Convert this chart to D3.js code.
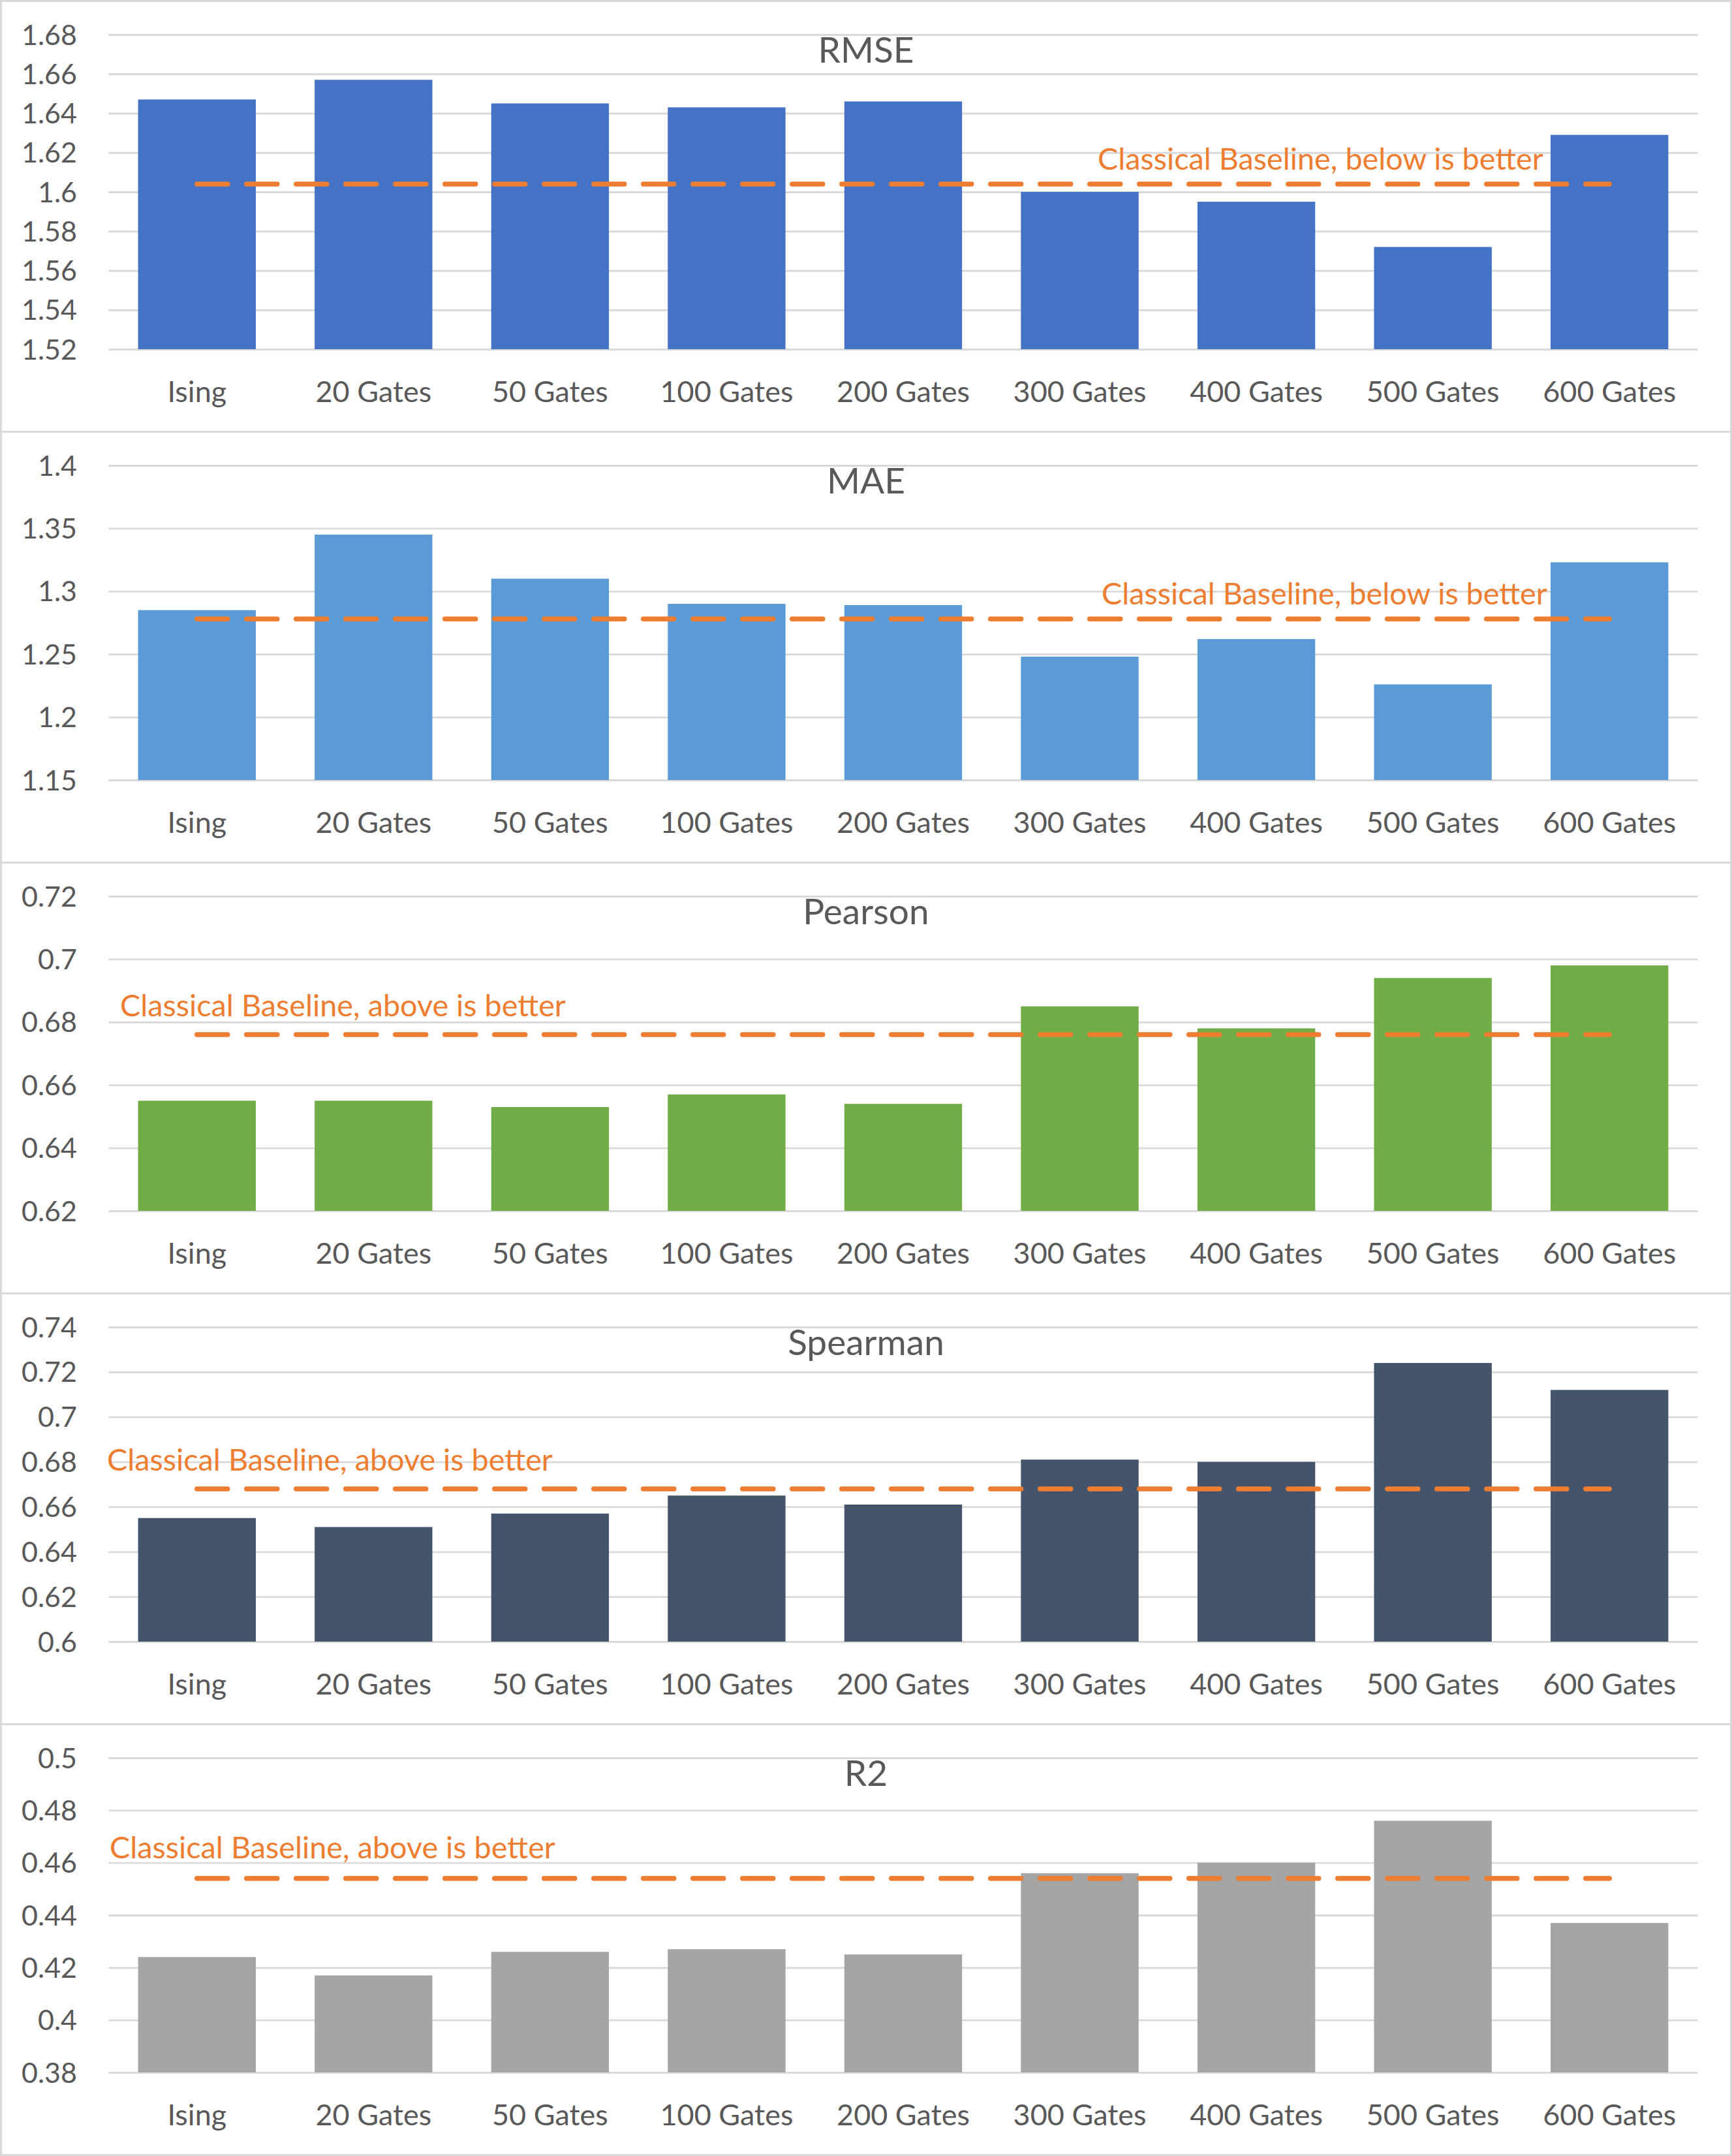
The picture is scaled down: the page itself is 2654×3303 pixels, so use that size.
<!DOCTYPE html>
<html>
<head>
<meta charset="utf-8">
<script src="https://cdn.jsdelivr.net/npm/d3@7"></script>
<style>
  html, body { margin: 0; padding: 0; background: #ffffff; }
  svg { display: block; }
</style>
</head>
<body>
<div id="chart"></div>
<script>
// ---------------- DATA ----------------
const categories = ["Ising", "20 Gates", "50 Gates", "100 Gates", "200 Gates", "300 Gates", "400 Gates", "500 Gates", "600 Gates"];

const titles = ["RMSE", "MAE", "Pearson", "Spearman", "R2"];

const rmseValues     = [1.647, 1.657, 1.645, 1.643, 1.646, 1.600, 1.595, 1.572, 1.629];
const maeValues      = [1.285, 1.345, 1.310, 1.290, 1.289, 1.248, 1.262, 1.226, 1.323];
const pearsonValues  = [0.655, 0.655, 0.653, 0.657, 0.654, 0.685, 0.678, 0.694, 0.698];
const spearmanValues = [0.655, 0.651, 0.657, 0.665, 0.661, 0.681, 0.680, 0.724, 0.712];
const r2Values       = [0.424, 0.417, 0.426, 0.427, 0.425, 0.456, 0.460, 0.476, 0.437];

const rmseBaseline     = [1.604, 1.604, 1.604, 1.604, 1.604, 1.604, 1.604, 1.604, 1.604];
const maeBaseline      = [1.278, 1.278, 1.278, 1.278, 1.278, 1.278, 1.278, 1.278, 1.278];
const pearsonBaseline  = [0.676, 0.676, 0.676, 0.676, 0.676, 0.676, 0.676, 0.676, 0.676];
const spearmanBaseline = [0.668, 0.668, 0.668, 0.668, 0.668, 0.668, 0.668, 0.668, 0.668];
const r2Baseline       = [0.454, 0.454, 0.454, 0.454, 0.454, 0.454, 0.454, 0.454, 0.454];

const rmseTicks     = [1.52, 1.54, 1.56, 1.58, 1.60, 1.62, 1.64, 1.66, 1.68];
const maeTicks      = [1.15, 1.20, 1.25, 1.30, 1.35, 1.40];
const pearsonTicks  = [0.62, 0.64, 0.66, 0.68, 0.70, 0.72];
const spearmanTicks = [0.60, 0.62, 0.64, 0.66, 0.68, 0.70, 0.72, 0.74];
const r2Ticks       = [0.38, 0.40, 0.42, 0.44, 0.46, 0.48, 0.50];

const rmseTickLabels     = ["1.52", "1.54", "1.56", "1.58", "1.6", "1.62", "1.64", "1.66", "1.68"];
const maeTickLabels      = ["1.15", "1.2", "1.25", "1.3", "1.35", "1.4"];
const pearsonTickLabels  = ["0.62", "0.64", "0.66", "0.68", "0.7", "0.72"];
const spearmanTickLabels = ["0.6", "0.62", "0.64", "0.66", "0.68", "0.7", "0.72", "0.74"];
const r2TickLabels       = ["0.38", "0.4", "0.42", "0.44", "0.46", "0.48", "0.5"];

const baselineLabels = [
  "Classical Baseline, below is better",
  "Classical Baseline, below is better",
  "Classical Baseline, above is better",
  "Classical Baseline, above is better",
  "Classical Baseline, above is better"
];

// ---------------- STYLE / LAYOUT ----------------
const W = 2654, H = 3303;
const panelH = 660;
const plotLeft = 166.5, plotRight = 2601.5;
const plotTopOff = 53, plotBotOff = 535;
const textColor = "#595959";
const gridColor = "#D9D9D9";
const lineColor = "#ED7D31";
const fontFamily = "Lato, 'Open Sans', sans-serif";

const panels = [
  { values: rmseValues, base: rmseBaseline, ticks: rmseTicks, labels: rmseTickLabels, color: "#4472C4", lx: 1682, ly: 260 },
  { values: maeValues, base: maeBaseline, ticks: maeTicks, labels: maeTickLabels, color: "#5B9BD5", lx: 1688, ly: 266 },
  { values: pearsonValues, base: pearsonBaseline, ticks: pearsonTicks, labels: pearsonTickLabels, color: "#70AD47", lx: 184, ly: 237 },
  { values: spearmanValues, base: spearmanBaseline, ticks: spearmanTicks, labels: spearmanTickLabels, color: "#44546A", lx: 164, ly: 273 },
  { values: r2Values, base: r2Baseline, ticks: r2Ticks, labels: r2TickLabels, color: "#A5A5A5", lx: 168, ly: 207 }
];

const svg = d3.select("#chart").append("svg")
  .attr("width", W).attr("height", H)
  .attr("viewBox", `0 0 ${W} ${H}`)
  .style("background", "#ffffff");

svg.append("rect").attr("x", 0).attr("y", 0).attr("width", W).attr("height", H).attr("fill", "#ffffff");

const x = d3.scaleBand()
  .domain(categories)
  .range([plotLeft, plotRight])
  .paddingInner(1 / 3)
  .paddingOuter(1 / 6);

panels.forEach((p, k) => {
  const top = k * panelH;
  const g = svg.append("g").attr("transform", `translate(0,${top})`);

  // panel border
  g.append("rect")
    .attr("x", 1.5).attr("y", 1.5)
    .attr("width", W - 3).attr("height", panelH)
    .attr("fill", "none")
    .attr("stroke", gridColor)
    .attr("stroke-width", 3);

  const y = d3.scaleLinear()
    .domain([p.ticks[0], p.ticks[p.ticks.length - 1]])
    .range([plotBotOff, plotTopOff]);

  // y axis with gridlines
  const yAxis = d3.axisLeft(y)
    .tickValues(p.ticks)
    .tickFormat((d, i) => p.labels[i])
    .tickSizeInner(-(plotRight - plotLeft))
    .tickSizeOuter(0)
    .tickPadding(plotLeft - 118);

  const ya = g.append("g")
    .attr("transform", `translate(${plotLeft},0)`)
    .call(yAxis);
  ya.select(".domain").remove();
  ya.selectAll(".tick line").attr("stroke", gridColor).attr("stroke-width", 2.8);
  ya.selectAll(".tick text")
    .attr("fill", textColor)
    .attr("font-family", fontFamily)
    .attr("font-size", 43)
    .attr("dy", "0.35em");

  // title
  g.append("text")
    .attr("x", (W) / 2)
    .attr("y", 95.5)
    .attr("text-anchor", "middle")
    .attr("fill", textColor)
    .attr("font-family", fontFamily)
    .attr("font-size", 55)
    .text(titles[k]);

  // bars
  g.append("g").selectAll("rect")
    .data(p.values)
    .join("rect")
    .attr("x", (d, i) => x(categories[i]))
    .attr("width", x.bandwidth())
    .attr("y", d => y(d))
    .attr("height", d => y(p.ticks[0]) - y(d))
    .attr("fill", p.color);

  // category axis
  const xAxis = d3.axisBottom(x).tickSize(0).tickPadding(0);
  const xa = g.append("g")
    .attr("transform", `translate(0,${plotBotOff})`)
    .call(xAxis);
  xa.select(".domain").remove();
  xa.selectAll(".tick text")
    .attr("fill", textColor)
    .attr("font-family", fontFamily)
    .attr("font-size", 45)
    .attr("y", 81)
    .attr("dy", null);

  // baseline dashed line
  const line = d3.line()
    .x((d, i) => x(categories[i]) + x.bandwidth() / 2)
    .y(d => y(d));
  g.append("path")
    .datum(p.base)
    .attr("d", line)
    .attr("fill", "none")
    .attr("stroke", lineColor)
    .attr("stroke-width", 7.5)
    .attr("stroke-linecap", "round")
    .attr("stroke-dasharray", "47,29");

  // baseline label
  const lbl = g.append("text")
    .attr("x", p.lx)
    .attr("y", p.ly)
    .attr("fill", lineColor)
    .attr("font-family", fontFamily)
    .attr("font-size", 100)
    .text(baselineLabels[k]);
  const w = lbl.node().getComputedTextLength();
  lbl.attr("font-size", 100 * 683 / w);
});
</script>
</body>
</html>
